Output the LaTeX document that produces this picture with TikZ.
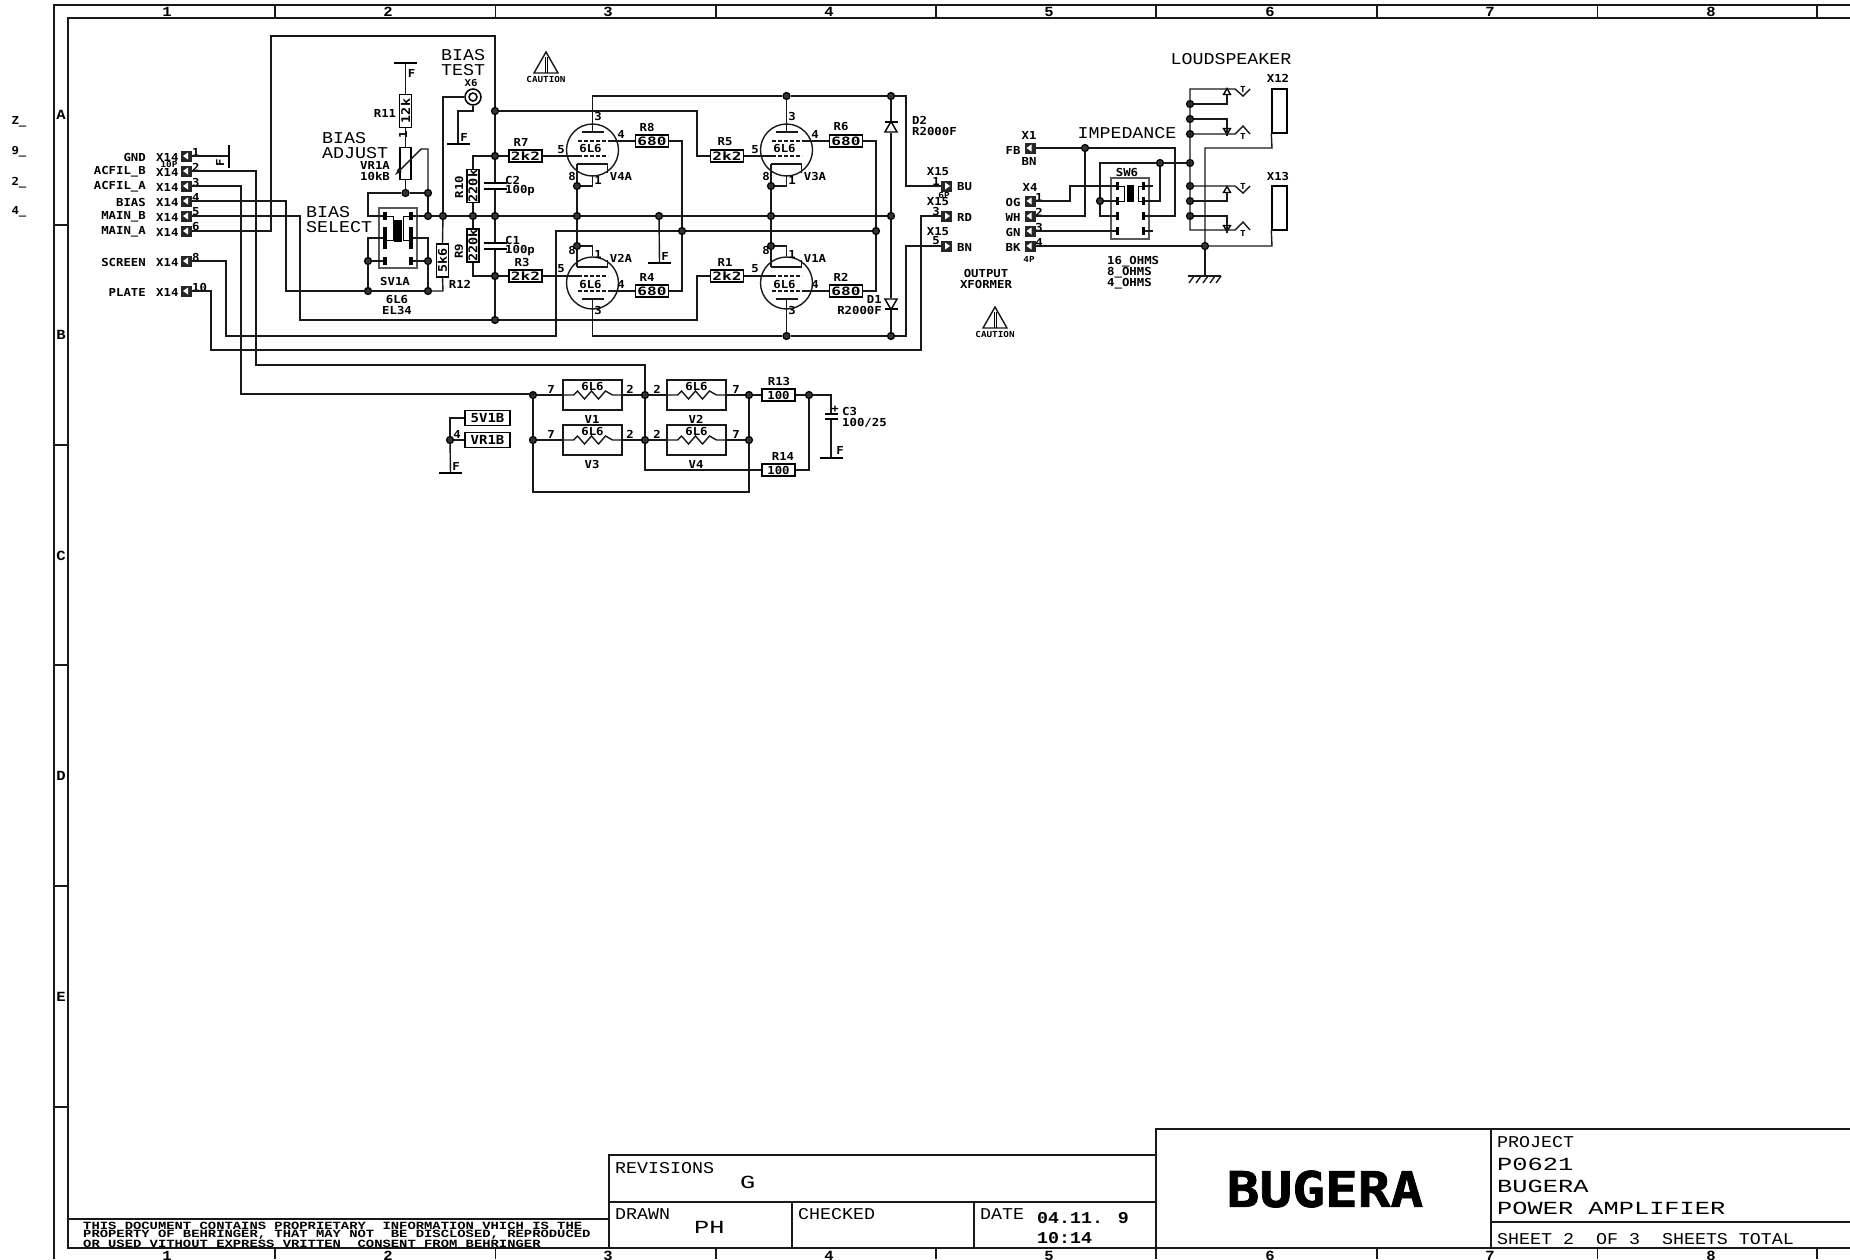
\documentclass[tikz,border=0pt]{standalone}
\usepackage{fontspec}
\usetikzlibrary{shapes.geometric}
\newfontfamily\thinfont[FakeStretch=1.11]{Liberation Mono}
\newfontfamily\widefont[FakeStretch=1.37]{Liberation Mono}
\newfontfamily\notefont[FakeStretch=1.26]{Liberation Mono}
\newfontfamily\labfont[FakeStretch=1.12]{DejaVu Sans Mono}
\newfontfamily\resfont[FakeStretch=1.4]{DejaVu Sans Mono}
\newfontfamily\logofont[FakeStretch=1.11,BoldFeatures={FakeBold=1.5}]{DejaVu Sans Mono}
\tikzset{
lab/.style={inner sep=0pt,font=\labfont\bfseries\fontsize{11}{11}\selectfont},
small/.style={inner sep=0pt,font=\labfont\bfseries\fontsize{8.3}{8}\selectfont},
big/.style={inner sep=0pt,anchor=west,font=\thinfont\fontsize{16.5}{17}\selectfont},
wide/.style={inner sep=0pt,anchor=west,font=\widefont\fontsize{18.5}{19}\selectfont},
note/.style={inner sep=0pt,anchor=west,font=\notefont\bfseries\fontsize{11}{11}\selectfont},
ruler/.style={inner sep=0pt,font=\thinfont\bfseries\fontsize{14}{14}\selectfont},
wire/.style={line width=1.4pt,black!90},
frame/.style={line width=1.4pt,black!90},
res/.style={draw,line width=1.4pt,fill=white,minimum width=33,minimum height=12,inner sep=0pt,font=\resfont\bfseries\fontsize{11.5}{12}\selectfont},
rres/.style={res,rotate=90,font=\labfont\bfseries\fontsize{12}{12}\selectfont},
bar/.style={fill=black,minimum width=23,minimum height=1.6,inner sep=0pt},
dot/.style={circle,draw=black,line width=1.2pt,fill=black!80,minimum size=7,inner sep=0pt},
swbox/.style={draw=black!65,line width=1.6pt,inner sep=0pt},
swpin/.style={fill=black,minimum width=4,minimum height=8,inner sep=0pt},
tri/.style={draw,line width=1.4pt,regular polygon,regular polygon sides=3,inner sep=0pt,minimum size=14},
tinytri/.style={tri,minimum size=8},
conl/.style={fill=black!85,minimum size=11,inner sep=0pt,path picture={
  \fill[white] ([xshift=2pt]path picture bounding box.west) -- ([xshift=7pt,yshift=3.5pt]path picture bounding box.west) -- ([xshift=7pt,yshift=-3.5pt]path picture bounding box.west) -- cycle;}},
conr/.style={fill=black!85,minimum size=11,inner sep=0pt,path picture={
  \fill[white] ([xshift=-2pt]path picture bounding box.east) -- ([xshift=-7pt,yshift=3.5pt]path picture bounding box.east) -- ([xshift=-7pt,yshift=-3.5pt]path picture bounding box.east) -- cycle;}},
tubetop/.pic={
  \draw[wire] (0,0) circle (26);
  \draw[wire] (-11,-18) -- (11,-18);
  \draw[wire,dashed,dash pattern=on 4pt off 2pt] (-15,-9) -- (15,-9);
  \draw[wire,dashed,dash pattern=on 4pt off 2pt] (-15,6) -- (15,6);
  \draw[wire] (-15.5,14) -- (15,14) -- (15,23);
  \node[lab] (-name) at (-2,-1) {6L6};
  \coordinate (-plate) at (0,-18);
  \coordinate (-scr) at (15,-9);
  \coordinate (-grid) at (-15,6);
  \coordinate (-cat) at (-15.5,14);
  \coordinate (-pin) at (0,25);
},
tubebot/.pic={
  \draw[wire] (0,0) circle (26);
  \draw[wire] (-11,16) -- (11,16);
  \draw[wire,dashed,dash pattern=on 4pt off 2pt] (-15,8) -- (15,8);
  \draw[wire,dashed,dash pattern=on 4pt off 2pt] (-15,-7) -- (15,-7);
  \draw[wire] (-15.5,-16) -- (15,-16) -- (15,-23);
  \node[lab] (-name) at (-2,1) {6L6};
  \coordinate (-plate) at (0,16);
  \coordinate (-scr) at (15,8);
  \coordinate (-grid) at (-15,-7);
  \coordinate (-cat) at (-15.5,-16);
  \coordinate (-pin) at (0,-27);
},
heater/.pic={
  \draw[wire] (-29.5,-15) rectangle (29.5,15);
  \draw[wire] (-29.5,0) -- (-19,0) -- (-15,-4) -- (-8,4) -- (-1,-4) -- (6,4) -- (13,-4) -- (20,0) -- (29.5,0);
  \node[lab] (-name) at (0,-9) {6L6};
  \coordinate (-in) at (-29.5,0);
  \coordinate (-out) at (29.5,0);
},
caution/.pic={
  \draw[wire] (0,-11) -- (-12,10) -- (12,10) -- cycle;
  \draw[line width=1pt] (-1,-6) -- (-1,10) (1,-6) -- (1,10);
  \node[small] (-name) at (0,16.5) {CAUTION};
}
}
\begin{document}
\begin{tikzpicture}[x=1pt,y=-1pt]
\clip[use as bounding box] (0,0) rectangle (1850,1259);
% sheet frame
\draw[frame] (1850,5) -- (54,5) -- (54,1259);
\draw[frame] (1850,18) -- (68,18) -- (68,1248) -- (1850,1248);
\foreach \x in {275,495.5,716,936,1156,1377,1597.5,1817}
  \draw[frame] (\x,5) -- (\x,18) (\x,1248) -- (\x,1259);
\foreach \y in {225,445,665,886,1107}
  \draw[frame] (54,\y) -- (68,\y);
\foreach \n/\x in {1/167,2/388,3/608,4/829,5/1049,6/1270,7/1490,8/1711} {
  \node[ruler] (top\n) at (\x,12) {\n};
  \node[ruler] (bot\n) at (\x,1256) {\n};
}
\foreach \n/\y in {A/115,B/335,C/556,D/776,E/997}
  \node[ruler] (row\n) at (61,\y) {\n};
\foreach \n/\y/\t in {a/122/Z,b/152/9,c/183/2,d/212/4}
  \node[lab] (mark\n) at (19,\y) {\t\_};

% title block
\draw[frame] (68,1219) -- (609,1219);
\draw[frame] (1156,1155) -- (609,1155) -- (609,1248);
\draw[frame] (609,1202) -- (1156,1202);
\draw[frame] (792,1202) -- (792,1248) (974,1202) -- (974,1248);
\draw[frame] (1156,1248) -- (1156,1129) -- (1850,1129);
\draw[frame] (1491,1129) -- (1491,1248) (1491,1222) -- (1850,1222);
\node[note] (disc1) at (83,1226) {THIS DOCUMENT CONTAINS PROPRIETARY~~INFORMATION VHICH IS THE};
\node[note] (disc2) at (83,1235) {PROPERTY OF BEHRINGER, THAT MAY NOT~~BE DISCLOSED, REPRODUCED};
\node[note] (disc3) at (83,1244) {OR USED VITHOUT EXPRESS VRITTEN~~CONSENT FROM BEHRINGER};
\node[big] (rev) at (615,1168) {REVISIONS};
\node[wide] (revg) at (740,1182) {G};
\node[big] (drawn) at (615,1214) {DRAWN};
\node[wide] (drawnph) at (694,1227) {PH};
\node[big] (checked) at (798,1214) {CHECKED};
\node[big] (date) at (980,1214) {DATE};
\node[big,font=\thinfont\bfseries\fontsize{16.5}{17}\selectfont] (dateval) at (1037,1218) {04.11. 9};
\node[big,font=\thinfont\bfseries\fontsize{16.5}{17}\selectfont] (timeval) at (1037,1238) {10:14};
\node[inner sep=0pt,font=\logofont\bfseries\fontsize{49}{49}\selectfont] (logo) at (1325,1189) {BUGERA};
\node[big] (proj) at (1497,1142) {PROJECT};
\node[wide] (projno) at (1497,1164) {P0621};
\node[wide] (projb) at (1497,1186) {BUGERA};
\node[wide] (projp) at (1497,1208) {POWER AMPLIFIER};
\node[big] (sheet) at (1497,1239) {SHEET 2~~OF 3~~SHEETS TOTAL};

% X14 connector
\foreach \n/\y/\t in {1/156/GND,2/171/ACFIL\_B,3/186/ACFIL\_A,4/201/BIAS,5/216/MAIN\_B,6/231/MAIN\_A,8/261/SCREEN,10/291/PLATE} {
  \node[conl] (xa\n) at (186.5,\y) {};
  \node[lab,anchor=west] (xn\n) at (156,\y+1) {X14};
  \node[lab,anchor=east] (xt\n) at (146,\y+1) {\t};
  \node[lab,anchor=west] (xp\n) at (192,\y-4) {\n};
}
\node[small] (xten) at (169,164) {10P};

% bias part
\node[res,minimum width=11,minimum height=32,draw] (VR1A) at (405.5,163.5) {};
\node[rres] (R11) at (405.5,111) {12k};
\node[rres] (R12) at (442.5,260.5) {5k6};
\node[rres] (R10) at (473,186) {220k};
\node[rres] (R9) at (473,245.5) {220k};
\node[bar] (F1) at (405.5,63) {};
\node[bar] (F2) at (458,144) {};
\node[bar,rotate=90] (F3) at (229,156) {};
\node[circle,draw,line width=1.5pt,minimum size=16,inner sep=0pt] (X6) at (473,97) {};
\node[circle,draw,line width=1.5pt,minimum size=8,inner sep=0pt] (X6i) at (473,97) {};
\node[swbox,minimum width=38,minimum height=60] (SV1A) at (398,238) {};
\node[swpin] (svp1) at (385,216) {};
\node[swpin] (svp2) at (411,216) {};
\node[swpin,minimum height=22] (svp3) at (385,238) {};
\node[swpin,minimum height=22] (svp4) at (411,238) {};
\node[swpin] (svp5) at (385,261) {};
\node[swpin] (svp6) at (411,261) {};
\node[swpin,minimum width=8,minimum height=22] (svc) at (398,231) {};
\foreach \n/\x/\y in {ja/405.5/193,jb/428/193,jc/428/216,jd/443/216,je/473/216,jf/495/216,jg/368/261,jh/428/261,ji/368/291,jj/428/291,jk/495/111,jl/495/156,jn/495/276,jo/495/320,jp/577/216,jq/659/216,jr/771/216,js/891/216,jt/577/186,ju/771/186,jv/577/246,jw/771/246,jx/682/231,jy/876/231,jz/786.5/96,ka/891/96,kb/786.5/336,kc/891/336}
  \node[dot] (\n) at (\x,\y) {};
\node[big] (biasa1) at (322,138) {BIAS};
\node[big] (biasa2) at (322,153) {ADJUST};
\node[big] (biass1) at (306,212) {BIAS};
\node[big] (biass2) at (306,227) {SELECT};
\node[big] (biast1) at (441,55) {BIAS};
\node[big] (biast2) at (441,70) {TEST};
\node[small,font=\labfont\bfseries\fontsize{9.5}{9}\selectfont] (X6t) at (471,83) {X6};
\node[lab] (R11t) at (385,113) {R11};
\node[lab] (F1t) at (411.5,73) {F};
\node[lab] (F2t) at (464,137) {F};
\node[lab,rotate=90] (F3t) at (220,163) {F};
\node[lab,rotate=90] (pin1t) at (403,135) {1};
\node[lab] (VR1At) at (375,165) {VR1A};
\node[lab] (VR1Av) at (375,176) {10kB};
\node[lab] (SV1At) at (395,281) {SV1A};
\node[lab] (sv6l6) at (397,299) {6L6};
\node[lab] (svel) at (397,310) {EL34};
\node[lab] (R12t) at (460,284) {R12};
\node[lab,rotate=90] (R10t) at (459,187) {R10};
\node[lab,rotate=90] (R9t) at (459,251) {R9};

% tubes
\pic (V4A) at (592.5,150) {tubetop};
\pic (V3A) at (786.5,150) {tubetop};
\pic (V2A) at (592.5,283) {tubebot};
\pic (V1A) at (786.5,283) {tubebot};
\node[res] (R7) at (525.5,156) {2k2};
\node[res] (R3) at (525.5,276) {2k2};
\node[res] (R5) at (727,156) {2k2};
\node[res] (R1) at (727,276) {2k2};
\node[res] (R8) at (652,141) {680};
\node[res] (R4) at (652,291) {680};
\node[res] (R6) at (846,141) {680};
\node[res] (R2) at (846,291) {680};
\foreach \n/\x/\y in {R7/521/142,R3/522/262,R5/725/142,R1/725/262,R8/647/127,R4/647/277,R6/841/127,R2/841/277}
  \node[lab] (\n t) at (\x,\y) {\n};
\foreach \n/\d in {a/0,b/194} {
  \node[lab] (p3\n) at (598+\d,116) {3};
  \node[lab] (p4\n) at (621+\d,134) {4};
  \node[lab] (p5\n) at (561+\d,150) {5};
  \node[lab] (p8\n) at (572+\d,176) {8};
  \node[lab] (p1\n) at (598+\d,180) {1};
  \node[lab] (q8\n) at (572+\d,250) {8};
  \node[lab] (q1\n) at (598+\d,254) {1};
  \node[lab] (q5\n) at (561+\d,269) {5};
  \node[lab] (q4\n) at (621+\d,284) {4};
  \node[lab] (q3\n) at (598+\d,310) {3};
}
\node[lab] (V4At) at (621,176) {V4A};
\node[lab] (V3At) at (815,176) {V3A};
\node[lab] (V2At) at (621,258) {V2A};
\node[lab] (V1At) at (815,258) {V1A};
\node[bar] (C2a) at (495,183) {};
\node[bar] (C2b) at (495,189) {};
\node[bar] (C1a) at (495,243) {};
\node[bar] (C1b) at (495,249) {};
\node[lab,anchor=west] (C2t) at (505,180) {C2};
\node[lab,anchor=west] (C2v) at (505,191) {100p};
\node[lab,anchor=west] (C1t) at (505,240) {C1};
\node[lab,anchor=west] (C1v) at (505,251) {100p};
\node[bar] (F4) at (659.5,263) {};
\node[lab] (F4t) at (665,256) {F};
\node[tri] (D2) at (891,128.5) {};
\node[tri,shape border rotate=180] (D1) at (891,302.5) {};
\node[bar,minimum width=13] (D2b) at (891,122) {};
\node[bar,minimum width=13] (D1b) at (891,309) {};
\node[lab,anchor=west] (D2t) at (912,120) {D2};
\node[lab,anchor=west] (D2v) at (912,131) {R2000F};
\node[lab,anchor=east] (D1t) at (882,299) {D1};
\node[lab,anchor=east] (D1v) at (882,310) {R2000F};
\foreach \n/\y/\p/\t in {a/186/1/BU,b/216/3/RD,c/246/5/BN} {
  \node[conr] (xf\n) at (946.5,\y) {};
  \node[lab] (xfn\n) at (938,\y-14) {X15};
  \node[lab] (xfp\n) at (936,\y-5) {\p};
  \node[lab,anchor=west] (xft\n) at (957,\y+1) {\t};
}
\node[small] (xfsix) at (944,195) {6P};
\node[lab] (outa) at (986,273) {OUTPUT};
\node[lab] (outb) at (986,284) {XFORMER};
\pic (CA) at (546,63) {caution};
\pic (CB) at (995,318) {caution};

% heaters
\pic (V1) at (592.5,395) {heater};
\pic (V2) at (696.5,395) {heater};
\pic (V3) at (592.5,440) {heater};
\pic (V4) at (696.5,440) {heater};
\foreach \n/\x/\y in {la/533/395,lb/533/440,lc/645/395,ld/645/440,le/749/395,lf/749/440,lg/809/395,lh/450/440}
  \node[dot] (\n) at (\x,\y) {};
\node[res,font=\labfont\bfseries\fontsize{11}{11}\selectfont] (R13) at (778.5,395) {100};
\node[res,font=\labfont\bfseries\fontsize{11}{11}\selectfont] (R14) at (778.5,470) {100};
\node[lab] (R13t) at (779,381) {R13};
\node[lab] (R14t) at (783,456) {R14};
\foreach \n/\x/\y/\t in {a/551/389/7,b/630/389/2,c/657/389/2,d/736/389/7,e/551/434/7,f/630/434/2,g/657/434/2,h/736/434/7}
  \node[lab] (hp\n) at (\x,\y) {\t};
\node[lab] (V1t) at (592,419) {V1};
\node[lab] (V2t) at (696,419) {V2};
\node[lab] (V3t) at (592,464) {V3};
\node[lab] (V4t) at (696,464) {V4};
\node[bar,minimum width=13] (C3a) at (831,414) {};
\node[bar,minimum width=13] (C3b) at (831,419) {};
\node[bar] (F5) at (831,458) {};
\node[lab] (F5t) at (840,450) {F};
\node[lab] (C3p) at (835,409) {+};
\node[lab,anchor=west] (C3t) at (842,411) {C3};
\node[lab,anchor=west] (C3v) at (842,423) {100/25};
\node[res,minimum width=45,minimum height=15,font=\labfont\bfseries\fontsize{12.5}{12}\selectfont] (SV1B) at (487.5,418) {5V1B};
\node[res,minimum width=45,minimum height=15,font=\labfont\bfseries\fontsize{12.5}{12}\selectfont] (VR1B) at (487.5,440) {VR1B};
\node[bar] (F6) at (450.5,473) {};
\node[lab] (F6t) at (456,466) {F};
\node[lab] (h4) at (457,434) {4};

% output side
\node[conl] (xb1) at (1030,148) {};
\foreach \n/\y/\t in {1/201/OG,2/216/WH,3/231/GN,4/246/BK} {
  \node[conl] (xd\n) at (1030,\y) {};
  \node[lab] (xdt\n) at (1013,\y+1) {\t};
  \node[lab] (xdp\n) at (1039,\y-4) {\n};
}
\node[lab] (X1t) at (1029,135) {X1};
\node[lab] (FBt) at (1013,150) {FB};
\node[lab] (BNt) at (1029,161) {BN};
\node[lab] (X4t) at (1030,187) {X4};
\node[small] (fourp) at (1029,259) {4P};
\node[big,anchor=center] (imp) at (1127,133) {IMPEDANCE};
\node[big,anchor=center] (loud) at (1231,59) {LOUDSPEAKER};
\node[lab] (X12t) at (1278,78) {X12};
\node[lab] (X13t) at (1278,176) {X13};
\node[swbox,minimum width=38,minimum height=61] (SW6) at (1130,208.5) {};
\foreach \n/\y in {1/186,2/201,3/216,4/231} {
  \node[swpin,minimum width=3.5] (swl\n) at (1117.5,\y) {};
  \node[swpin,minimum width=3.5] (swr\n) at (1143.5,\y) {};
}
\node[swpin,minimum width=7,minimum height=17] (swc) at (1130.5,193.5) {};
\node[lab] (SW6t) at (1127,172) {SW6};
\node[lab,anchor=west] (oh16) at (1107,262) {16\_OHMS};
\node[lab,anchor=west] (oh8) at (1107,273) {8\_OHMS};
\node[lab,anchor=west] (oh4) at (1107,284) {4\_OHMS};
\foreach \n/\x/\y in {ma/1085/148,mb/1100/201,mc/1160/163,md/1190/163,me/1190/104,mf/1190/119,mg/1190/134,mh/1190/186,mi/1190/201,mj/1190/216,mk/1205/246}
  \node[dot] (\n) at (\x,\y) {};
\coordinate (bustop) at (1190,89);
\coordinate (busbot) at (1190,230);
\node[tinytri] (J1) at (1227,92.5) {};
\node[tinytri,shape border rotate=180] (J2) at (1227,130.5) {};
\node[tinytri] (J3) at (1227,190.5) {};
\node[tinytri,shape border rotate=180] (J4) at (1227,227.5) {};
\foreach \n/\y in {a/89,b/136,c/186,d/233}
  \node[small] (jt\n) at (1243,\y) {T};
\node[draw,line width=1.4pt,inner sep=0pt,minimum width=15,minimum height=44] (X12) at (1279.5,111) {};
\node[draw,line width=1.4pt,inner sep=0pt,minimum width=15,minimum height=44] (X13) at (1279.5,208) {};
\coordinate (gnd) at (1205,276);

% wires left
\draw[wire] (xa1.east) -- (F3);
\draw[wire] (xa2.east) -| (256,365) -- (645,365) -- (lc);
\draw[wire] (xa3.east) -| (241,394) -- (533,394) -- (la);
\draw[wire] (xa4.east) -| (286,291) -- (ji);
\draw[wire] (ji) -- (jj);
\draw[wire] (jj) -- (443,291) -- (R12.west);
\draw[wire] (R12.east) -- (jd);
\draw[wire] (jd) -- (443,97) -- (X6);
\draw[wire] (X6) -- (473,111) -| (F2);
\draw[wire] (xa5.east) -| (300,320) -- (jo);
\draw[wire] (xa6.east) -| (271,36) -- (495,36) -- (jk);
\draw[wire] (xa8.east) -| (226,336) -- (556,336) |- (jx);
\draw[wire] (xa10.east) -| (211,350) -- (921,350) |- (xfb.west);
\draw[wire] (F1) -- (R11.east);
\draw[wire] (R11.west) -- (VR1A.north);
\draw[wire] (VR1A.south) -- (ja);
\draw[wire,latex-] (395,175) -- (421,149) -| (jb);
\draw[wire] (ja) -- (jb);
\draw[wire] (jb) -- (jc);
\draw[wire] (ja) -- (368,193) |- (svp1.west);
\draw[wire] (svp2.east) -- (jc);
\draw[wire] (jc) -- (jd);
\draw[wire] (jd) -- (je);
\draw[wire] (je) -- (jf);
\draw[wire] (jf) -- (jp);
\draw[wire] (jp) -- (jq);
\draw[wire] (jq) -- (jr);
\draw[wire] (jr) -- (js);
\draw[wire] (svp3.west) -| (jg);
\draw[wire] (svp5.west) -- (jg);
\draw[wire] (jg) -- (ji);
\draw[wire] (svp4.east) -| (jh);
\draw[wire] (svp6.east) -- (jh);
\draw[wire] (jh) -- (jj);
\draw[line width=1pt] (svp1.east) -| (393,240) -- (svp3.east |- 393,240);
\draw[line width=1pt] (svp2.west) -| (403,240) -- (svp4.west |- 403,240);
% wires round the tubes
\draw[wire] (jk) -- (jl);
\draw[wire] (jl) -- (C2a);
\draw[wire] (C2b) -- (jf);
\draw[wire] (jf) -- (C1a);
\draw[wire] (C1b) -- (jn);
\draw[wire] (jn) -- (jo);
\draw[wire] (jl) -| (R10.east);
\draw[wire] (R10.west) -- (je);
\draw[wire] (je) -- (R9.east);
\draw[wire] (R9.west) |- (jn);
\draw[wire] (jl) -- (R7.west);
\draw[wire] (jn) -- (R3.west);
\draw[wire] (jk) -- (697,111) |- (R5.west);
\draw[wire] (jo) -- (697,320) |- (R1.west);
\draw[wire] (R7.east) -- (V4A-grid);
\draw[wire] (R3.east) -- (V2A-grid);
\draw[wire] (R5.east) -- (V3A-grid);
\draw[wire] (R1.east) -- (V1A-grid);
\draw[wire] (V4A-scr) -- (R8.west);
\draw[wire] (V2A-scr) -- (R4.west);
\draw[wire] (V3A-scr) -- (R6.west);
\draw[wire] (V1A-scr) -- (R2.west);
\draw[wire] (R8.east) -| (jx);
\draw[wire] (R4.east) -| (jx);
\draw[wire] (R6.east) -| (jy);
\draw[wire] (R2.east) -| (jy);
\draw[wire] (jx) -- (jy);
\draw[wire] (V4A-cat) -- (jt);
\draw[wire] (jt) -- (jp);
\draw[wire] (jp) -- (jv);
\draw[wire] (jv) -- (V2A-cat);
\draw[wire] (V3A-cat) -- (ju);
\draw[wire] (ju) -- (jr);
\draw[wire] (jr) -- (jw);
\draw[wire] (jw) -- (V1A-cat);
\draw[wire] (V4A-pin) |- (jt);
\draw[wire] (V3A-pin) |- (ju);
\draw[wire] (V2A-pin) |- (jv);
\draw[wire] (V1A-pin) |- (jw);
\draw[wire] (jq) -- (F4);
\draw[wire] (V4A-plate) |- (jz);
\draw[wire] (V3A-plate) -- (jz);
\draw[wire] (jz) -- (ka);
\draw[wire] (ka) -- (906,96) |- (xfa.west);
\draw[wire] (V2A-plate) |- (kb);
\draw[wire] (V1A-plate) -- (kb);
\draw[wire] (kb) -- (kc);
\draw[wire] (kc) -- (906,336) |- (xfc.west);
\draw[wire] (ka) -- (D2b);
\draw[wire] (D2.south) -- (js);
\draw[wire] (js) -- (D1.north);
\draw[wire] (D1b) -- (kc);
% heater wires
\draw[wire] (la) -- (V1-in);
\draw[wire] (V1-out) -- (lc);
\draw[wire] (lc) -- (V2-in);
\draw[wire] (V2-out) -- (le);
\draw[wire] (lb) -- (V3-in);
\draw[wire] (V3-out) -- (ld);
\draw[wire] (ld) -- (V4-in);
\draw[wire] (V4-out) -- (lf);
\draw[wire] (la) -- (lb);
\draw[wire] (lc) -- (ld);
\draw[wire] (le) -- (lf);
\draw[wire] (lb) -- (533,492) -- (749,492) -- (lf);
\draw[wire] (ld) -- (645,470) -- (R14.west);
\draw[wire] (le) -- (R13.west);
\draw[wire] (R13.east) -- (lg);
\draw[wire] (R14.east) -| (lg);
\draw[wire] (lg) -- (831,395) -- (C3a);
\draw[wire] (C3b) -- (F5);
\draw[wire] (SV1B.west) -| (lh);
\draw[wire] (VR1B.west) -- (lh);
\draw[wire] (lh) -- (F6);
% wires right
\draw[wire] (xb1.east) -- (ma);
\draw[wire] (ma) -- (1175,148) |- (swr3.east);
\draw[wire] (ma) |- (xd2.east);
\draw[wire] (xd1.east) -- (1070,201) |- (swl1.west);
\draw[wire] (xd3.east) -- (swl4.west);
\draw[wire] (xd4.east) -- (mk);
\draw[wire] (mk) -- (1272,246) -- (X13.south west);
\draw[wire] (mb) -- (swl2.west);
\draw[wire] (mb) |- (swl3.west);
\draw[wire] (mb) |- (mc);
\draw[wire] (mc) -- (md);
\draw[wire] (mc) |- (swr2.east);
\draw[wire] (swr1.east) -- (1153,186);
\draw[wire] (swr4.east) -- (1153,231);
\draw[line width=1pt] (swl1.east) -| (1124,201) -- (swl2.east);
\draw[line width=1pt] (swr1.west) -| (1138,201) -- (swr2.west);
\draw[wire] (1250,89) -- (1243,96) -- (1235,89) -- (bustop) -- (busbot) -- (1235,230) -- (1243,222) -- (1250,230);
\draw[wire] (1250,186) -- (1243,193) -- (1235,186) -- (mh);
\draw[wire] (1250,134) -- (1243,126) -- (1235,134) -- (mg);
\draw[wire] (me) -| (J1.south);
\draw[wire] (mf) -| (J2.south);
\draw[wire] (mi) -| (J3.south);
\draw[wire] (mj) -| (J4.south);
\draw[wire] (X12.south west) -- (1272,148) -- (1205,148) -- (mk);
\draw[wire] (mk) -- (gnd);
\draw[wire] (1188,276) -- (1221,276);
\foreach \x in {1194,1201,1208,1215,1221}
  \draw[wire] (\x,276) -- (\x-5,283);
\end{tikzpicture}
\end{document}
